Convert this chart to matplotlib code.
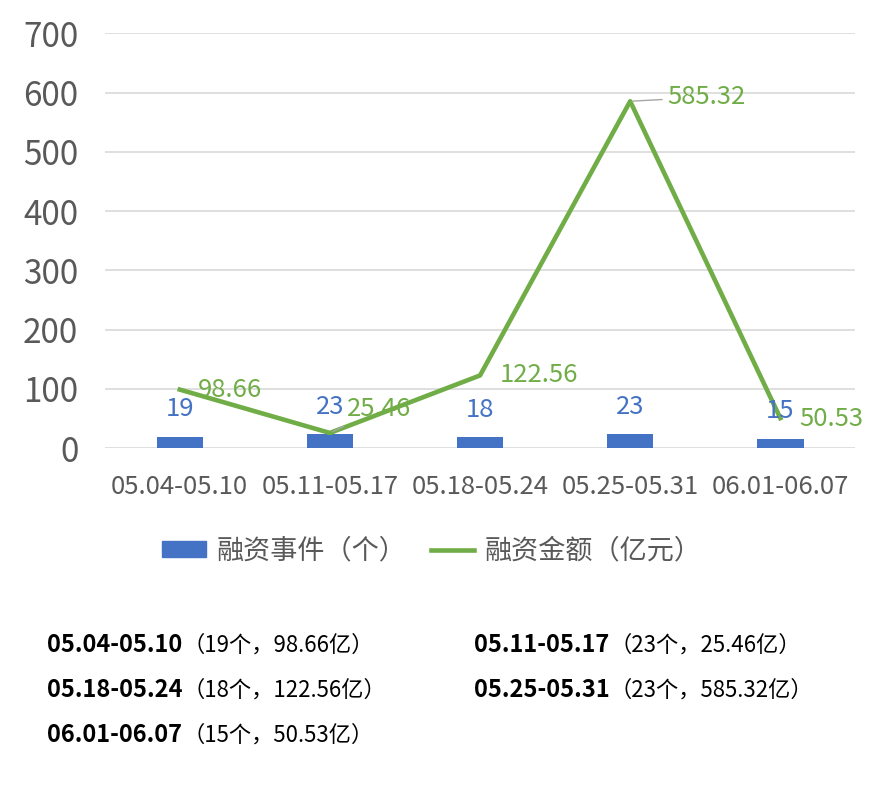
import matplotlib
matplotlib.use("Agg")
import matplotlib.pyplot as plt
from matplotlib.patches import Patch
from matplotlib.lines import Line2D

plt.rcParams['font.family'] = ['Noto Sans CJK SC', 'DejaVu Sans']

weeks = ["05.04-05.10", "05.11-05.17", "05.18-05.24", "05.25-05.31", "06.01-06.07"]
events = [19, 23, 18, 23, 15]
amounts = [98.66, 25.46, 122.56, 585.32, 50.53]
amount_labels = ["98.66", "25.46", "122.56", "585.32", "50.53"]
yticks = [0, 100, 200, 300, 400, 500, 600, 700]

BLUE = '#4472C4'
GREEN = '#70AD47'
GREY = '#595959'

fig = plt.figure(figsize=(8.8, 7.93), dpi=100)
ax = fig.add_axes([0.119, 0.435, 0.853, 0.523])

x = list(range(len(weeks)))
ax.bar(x, events, width=0.31, color=BLUE, zorder=2)
ax.plot(x, amounts, color=GREEN, linewidth=3.3, zorder=3)

ax.set_xlim(-0.5, len(weeks) - 0.5)
ax.set_ylim(0, 700)
ax.set_yticks(yticks)
ax.set_xticks(x)
ax.set_xticklabels(weeks)
ax.tick_params(axis='y', length=0, labelsize=24, labelcolor=GREY, pad=19)
ax.tick_params(axis='x', length=0, labelsize=18.5, labelcolor=GREY, pad=19)
ax.grid(axis='y', color='#D9D9D9', linewidth=1.2, zorder=0)
for s in ax.spines.values():
    s.set_visible(False)

# bar labels
for i, v in enumerate(events):
    ax.annotate(str(v), (i, v), xytext=(0, 20), textcoords='offset points',
                ha='center', va='center', fontsize=18.5, color=BLUE)

# line labels (offsets in points, leader lines where Excel moved them)
offsets = [(13, 0), (12, 17), (14, 0), (27, 3), (14, -1)]
leaders = [False, True, False, True, False]
for i, (v, lab) in enumerate(zip(amounts, amount_labels)):
    kw = {}
    if leaders[i]:
        kw['arrowprops'] = dict(arrowstyle='-', color='#A6A6A6', lw=1,
                                shrinkA=2, shrinkB=2)
    ax.annotate(lab, (i, v), xytext=offsets[i], textcoords='offset points',
                ha='left', va='center', fontsize=18.5, color=GREEN, zorder=4, **kw)

handles = [Patch(color=BLUE, label='融资事件（个）'),
           Line2D([0], [0], color=GREEN, lw=3.3, label='融资金额（亿元）')]
fig.legend(handles=handles, loc='center', bbox_to_anchor=(0.491, 0.305), ncol=2,
           frameon=False, fontsize=19.5, labelcolor=GREY, handlelength=1.6,
           handleheight=0.55, columnspacing=0.9, handletextpad=0.4)

# summary lines under the chart
col_x = [47 / 880, 474 / 880]
row_y = [1 - 645 / 793, 1 - 690 / 793, 1 - 735 / 793]
for i, (w, n, a) in enumerate(zip(weeks, events, amount_labels)):
    tx, ty = col_x[i % 2], row_y[i // 2]
    t = fig.text(tx, ty, w, fontsize=17, fontweight='bold', color='black',
                 ha='left', va='center')
    fig.canvas.draw()
    bb = t.get_window_extent()
    fig.text(bb.x1 / fig.bbox.width, ty, f"（{n}个，{a}亿）",
             fontsize=16, color='black', ha='left', va='center')

fig.savefig('out.png', dpi=100, facecolor='white')
